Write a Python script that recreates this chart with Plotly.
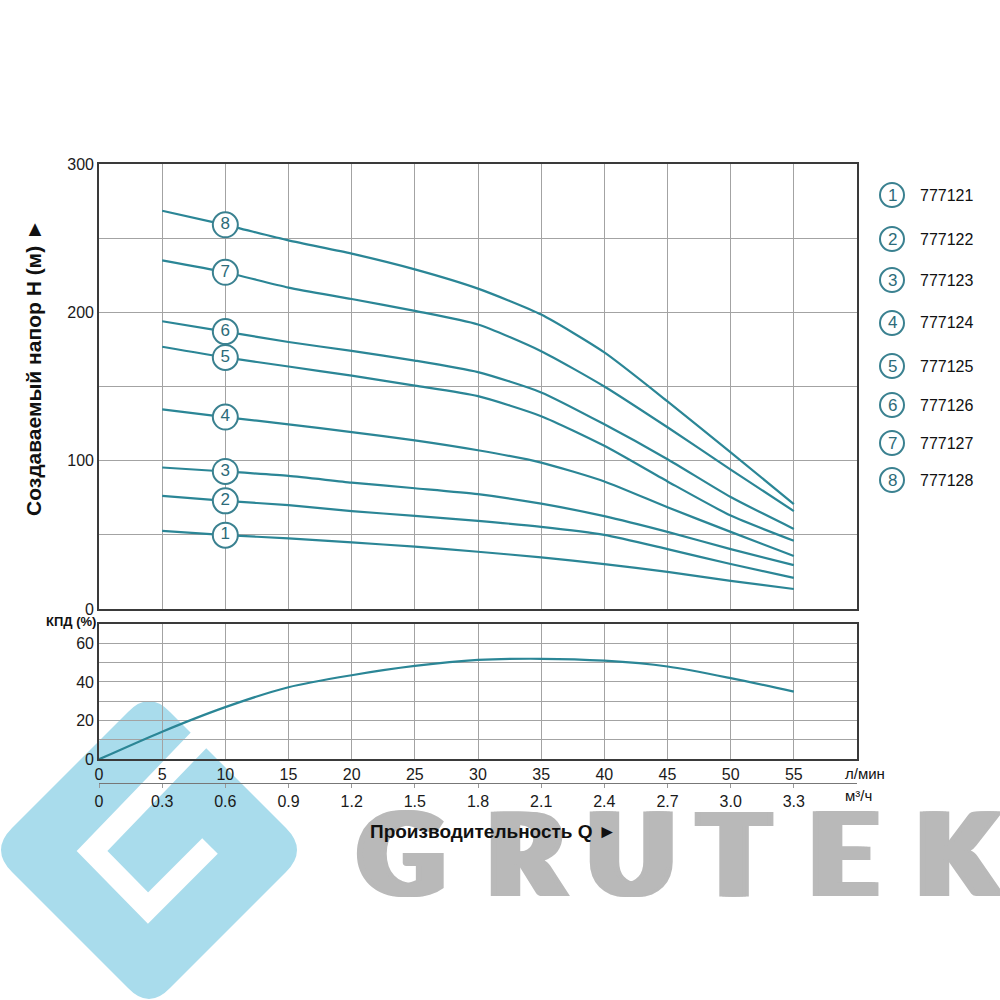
import plotly.graph_objects as go

# ---------------- data ----------------
Q_HEAD = [5, 10, 15, 20, 25, 30, 35, 40, 45, 50, 55]          # л/мин
H_777121 = [52.7, 49.8, 47.6, 44.9, 42.0, 38.6, 34.8, 30.3, 25.0, 19.0, 13.5]
H_777122 = [76.2, 72.9, 70.0, 66.0, 62.8, 59.4, 55.4, 50.0, 40.4, 30.3, 21.0]
H_777123 = [95.4, 92.7, 89.7, 85.2, 81.4, 77.4, 71.0, 62.6, 52.0, 40.4, 29.6]
H_777124 = [134.6, 129.4, 124.5, 119.3, 113.7, 107.0, 98.7, 86.0, 68.6, 52.0, 35.7]
H_777125 = [176.8, 169.6, 163.5, 157.3, 150.6, 143.5, 130.0, 110.0, 86.0, 63.0, 46.0]
H_777126 = [194.0, 187.0, 180.0, 174.0, 167.5, 159.7, 146.0, 124.5, 101.0, 75.5, 54.0]
H_777127 = [235.0, 227.0, 216.7, 209.0, 201.0, 191.8, 173.8, 150.0, 122.5, 94.0, 66.0]
H_777128 = [268.5, 259.0, 248.5, 239.6, 229.0, 216.0, 198.5, 173.0, 140.0, 105.6, 70.7]
HEAD_SERIES = [H_777121, H_777122, H_777123, H_777124,
               H_777125, H_777126, H_777127, H_777128]
MODELS = ["777121", "777122", "777123", "777124", "777125", "777126", "777127", "777128"]
CURVE_NUMBERS = ["1", "2", "3", "4", "5", "6", "7", "8"]
LABEL_Q = 10  # curve number markers sit at Q = 10 л/мин

Q_EFF = [0, 5, 10, 15, 20, 25, 30, 35, 40, 45, 50, 55]
EFF = [0, 14.3, 27.0, 37.3, 43.5, 48.3, 51.4, 52.0, 51.0, 48.0, 42.0, 35.0]

Q_TICKS_LMIN = [0, 5, 10, 15, 20, 25, 30, 35, 40, 45, 50, 55]
Q_TICK_TEXT_LMIN = ["0", "5", "10", "15", "20", "25", "30", "35", "40", "45", "50", "55"]
Q_TICKS_M3H = [0, 0.3, 0.6, 0.9, 1.2, 1.5, 1.8, 2.1, 2.4, 2.7, 3.0, 3.3]
Q_TICK_TEXT_M3H = ["0", "0.3", "0.6", "0.9", "1.2", "1.5", "1.8", "2.1", "2.4", "2.7", "3.0", "3.3"]
H_TICKS = [0, 50, 100, 150, 200, 250, 300]
H_TICK_TEXT = ["0", "", "100", "", "200", "", "300"]
EFF_TICKS = [0, 10, 20, 30, 40, 50, 60, 70]
EFF_TICK_TEXT = ["0", "", "20", "", "40", "", "60", ""]

# ---------------- style ----------------
FONT = "Liberation Sans, Arial, sans-serif"
LINE = "#2b8696"
RING = "#3a8190"
NUM = "#2c6b79"
GRID = "#a3a3a3"
FRAME = "#3a3a3a"
LOGO_BLUE = "#a9dcec"
LOGO_GREY = "#b9b9b9"


def px(x):
    return x / 1000.0


def py(y):
    return 1 - y / 1000.0


fig = go.Figure()

# head curves
for h in HEAD_SERIES:
    fig.add_trace(go.Scatter(x=Q_HEAD, y=h, mode="lines",
                             line=dict(color=LINE, width=2.2, shape="spline", smoothing=0.6),
                             hoverinfo="skip", xaxis="x", yaxis="y"))

# curve number markers
lab_idx = Q_HEAD.index(LABEL_Q)
fig.add_trace(go.Scatter(
    x=[LABEL_Q] * len(HEAD_SERIES),
    y=[h[lab_idx] for h in HEAD_SERIES],
    mode="markers+text", text=CURVE_NUMBERS, textposition="middle center",
    textfont=dict(family=FONT, size=17, color=NUM),
    marker=dict(size=25, color="white", line=dict(color=RING, width=2)),
    hoverinfo="skip", xaxis="x", yaxis="y"))

# efficiency
fig.add_trace(go.Scatter(x=Q_EFF, y=EFF, mode="lines",
                         line=dict(color=LINE, width=2.2, shape="spline", smoothing=0.8),
                         hoverinfo="skip", xaxis="x2", yaxis="y2"))

# dummy for m3/h axis
fig.add_trace(go.Scatter(x=[Q_TICKS_M3H[0]], y=[-10], mode="markers",
                         marker=dict(opacity=0), hoverinfo="skip",
                         xaxis="x3", yaxis="y2"))

common_x = dict(domain=[0.099, 0.857], range=[0, 60], tickvals=Q_TICKS_LMIN,
                showgrid=True, gridcolor=GRID, gridwidth=1, zeroline=False,
                showline=True, mirror=True, linecolor=FRAME, linewidth=1.6,
                ticks="", fixedrange=True, automargin=False)
tickfont = dict(family=FONT, size=16, color="#1a1a1a")

fig.update_layout(
    width=1000, height=1000, autosize=False,
    margin=dict(l=0, r=0, t=0, b=0, pad=0),
    paper_bgcolor="white", plot_bgcolor="rgba(0,0,0,0)",
    showlegend=False, font=dict(family=FONT, size=16, color="#1a1a1a"),
    xaxis=dict(**common_x, anchor="y", showticklabels=False),
    yaxis=dict(domain=[0.391, 0.836], range=[0, 300], tickvals=H_TICKS, ticktext=H_TICK_TEXT,
               showgrid=True, gridcolor=GRID, gridwidth=1, zeroline=False,
               showline=True, mirror=True, linecolor=FRAME, linewidth=1.6,
               ticks="", tickfont=tickfont, anchor="x", automargin=False, fixedrange=True),
    xaxis2=dict(**common_x, anchor="y2", ticktext=Q_TICK_TEXT_LMIN, tickfont=tickfont),
    yaxis2=dict(domain=[0.2407, 0.376], range=[0, 70], tickvals=EFF_TICKS, ticktext=EFF_TICK_TEXT,
                showgrid=True, gridcolor=GRID, gridwidth=1, zeroline=False,
                showline=True, mirror=True, linecolor=FRAME, linewidth=1.6,
                ticks="", tickfont=tickfont, anchor="x2", automargin=False, fixedrange=True),
    xaxis3=dict(domain=[0.099, 0.857], range=[0, 3.6], tickvals=Q_TICKS_M3H, ticktext=Q_TICK_TEXT_M3H,
                overlaying="x2", anchor="free", position=0.217, side="bottom",
                showgrid=False, zeroline=False, showline=True, linecolor="#777", linewidth=1.3,
                ticks="outside", ticklen=4, tickcolor="#999", tickfont=tickfont,
                automargin=False, fixedrange=True),
)

# ---------------- watermark logo (shapes, below everything) ----------------
def path(points_cmds):
    out = []
    for cmd, pts in points_cmds:
        coords = " ".join(f"{px(x):.4f},{py(y):.4f}" for x, y in pts)
        out.append(f"{cmd} {coords}")
    return " ".join(out) + " Z"


outer = path([
    ("M", [(128, 712)]), ("Q", [(149, 690), (170, 712)]),
    ("L", [(286, 828)]), ("Q", [(308, 850), (286, 872)]),
    ("L", [(170, 988)]), ("Q", [(149, 1010), (128, 988)]),
    ("L", [(12, 872)]), ("Q", [(-10, 850), (12, 828)]),
])
fig.add_shape(type="path", path=outer, xref="paper", yref="paper",
              fillcolor=LOGO_BLUE, line=dict(width=0), layer="below")
channel = "M " + " L ".join(f"{px(x):.4f},{py(y):.4f}" for x, y in
                             [(222, 716), (92, 851), (148, 908), (210, 846)])
fig.add_shape(type="path", path=channel, xref="paper", yref="paper",
              fillcolor="rgba(0,0,0,0)", line=dict(color="white", width=22), layer="below")

# GRUTEK letters (horizontal text-shadows thicken the strokes like the heavy logo type)
WORDMARK = "GRUTEK"
letter_cx = [401, 526, 631, 734, 843, 958]
fat = ", ".join(f"{d}px 0 0 {LOGO_GREY}" for d in (-6, -3, 3, 6))
for ch, cx in zip(WORDMARK, letter_cx):
    fig.add_annotation(x=px(cx), y=py(851), xref="paper", yref="paper", text=ch,
                       showarrow=False, xanchor="center", yanchor="middle",
                       font=dict(family="Lato, DejaVu Sans", size=116, color=LOGO_GREY,
                                 weight=900, shadow=fat))


def label(x, y, text, size, xanchor="center", angle=0, color="#111"):
    fig.add_annotation(x=px(x), y=py(y), xref="paper", yref="paper", text=text,
                       xanchor=xanchor, yanchor="middle", textangle=angle, showarrow=False,
                       font=dict(family=FONT, size=size, color=color))


# ---------------- texts ----------------
label(33, 368, "<b>Создаваемый напор H (м) ►</b>", 21, angle=-90)
label(98, 621, "<b>КПД (%)</b>", 13, xanchor="right")
label(843, 773, "л/мин", 15, xanchor="left")
label(843, 795, "м³/ч", 15, xanchor="left")
label(368, 831, "<b>Производительность Q ►</b>", 19, xanchor="left")

# legend
LEGEND_Y = [195, 239, 280, 323, 366, 405, 443, 480]
for num, model, ly in zip(CURVE_NUMBERS, MODELS, LEGEND_Y):
    r = 12
    fig.add_shape(type="circle", xref="paper", yref="paper",
                  x0=px(892 - r), x1=px(892 + r), y0=py(ly + r), y1=py(ly - r),
                  fillcolor="white", line=dict(color=RING, width=2))
    label(892, ly, num, 17, color=NUM)
    label(918, ly, model, 16, xanchor="left")

fig.write_html("out.html", config={"displayModeBar": False},
               post_script="document.body.style.margin='0';document.body.style.overflow='hidden';")
